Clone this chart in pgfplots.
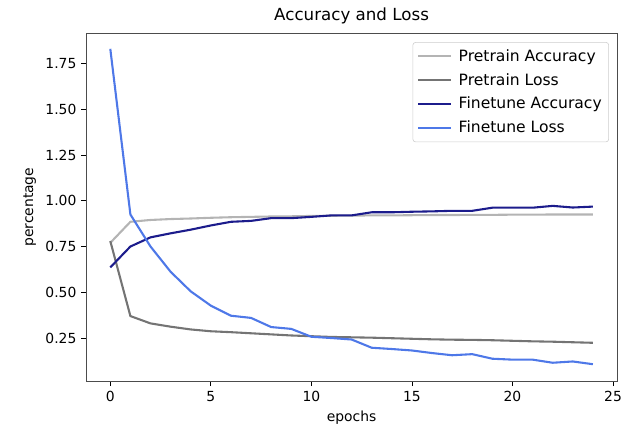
\documentclass[border=0pt]{standalone}
\usepackage{fontspec}
\setmainfont{DejaVu Sans}
\usepackage{pgfplots}
\pgfplotsset{compat=1.18}
\definecolor{pacc}{HTML}{B4B4B4}
\definecolor{ploss}{HTML}{747474}
\definecolor{facc}{HTML}{1C1C8C}
\definecolor{floss}{HTML}{4E78E8}
\begin{document}
\begin{tikzpicture}
\begin{axis}[
  scale only axis,
  width=382pt, height=250.6pt,
  xmin=-1.2, xmax=25.2, ymin=0.0135, ymax=1.916,
  xtick={0,5,10,15,20,25},
  ytick={0.25,0.5,0.75,1.0,1.25,1.5,1.75},
  yticklabel style={/pgf/number format/.cd,fixed,fixed zerofill,precision=2},
  /pgf/number format/assume math mode=true,
  tick align=outside, tick pos=left,
  major tick length=3.5pt,
  tick style={black, line width=0.6pt},
  axis line style={black!70, line width=0.6pt},
  ticklabel style={font=\fontsize{10}{12}\selectfont},
  label style={font=\fontsize{10}{12}\selectfont},
  title style={font=\fontsize{12}{14}\selectfont, yshift=-3pt},
  title={Accuracy and Loss},
  xlabel={epochs}, ylabel={percentage},
  legend style={at={(1,1)}, anchor=north east, xshift=-5.8pt, yshift=-6.5pt,
    font=\fontsize{11.2}{13}\selectfont, draw=black!20, rounded corners=2pt,
    inner xsep=3pt, inner ysep=3pt, row sep=3.2pt, column sep=2.5pt},
  legend image code/.code={\draw[#1, line width=1.5pt] (0pt,0pt) -- (24pt,0pt);},
  legend cell align=left,
  every axis plot/.append style={line width=1.5pt},
]
\addplot[pacc] coordinates {(0,0.77)(1,0.885)(2,0.895)(3,0.90)(4,0.903)(5,0.907)(6,0.91)(7,0.912)(8,0.914)(9,0.915)(10,0.917)(11,0.918)(12,0.919)(13,0.92)(14,0.92)(15,0.921)(16,0.922)(17,0.922)(18,0.923)(19,0.923)(20,0.924)(21,0.924)(22,0.925)(23,0.925)(24,0.925)};
\addlegendentry{Pretrain Accuracy}
\addplot[ploss] coordinates {(0,0.78)(1,0.37)(2,0.33)(3,0.312)(4,0.297)(5,0.287)(6,0.282)(7,0.276)(8,0.27)(9,0.264)(10,0.26)(11,0.256)(12,0.254)(13,0.252)(14,0.249)(15,0.246)(16,0.243)(17,0.241)(18,0.24)(19,0.238)(20,0.235)(21,0.232)(22,0.23)(23,0.227)(24,0.224)};
\addlegendentry{Pretrain Loss}
\addplot[facc] coordinates {(0,0.636)(1,0.75)(2,0.80)(3,0.822)(4,0.842)(5,0.865)(6,0.885)(7,0.89)(8,0.905)(9,0.905)(10,0.912)(11,0.92)(12,0.92)(13,0.937)(14,0.937)(15,0.94)(16,0.942)(17,0.945)(18,0.945)(19,0.962)(20,0.962)(21,0.962)(22,0.972)(23,0.963)(24,0.968)};
\addlegendentry{Finetune Accuracy}
\addplot[floss] coordinates {(0,1.83)(1,0.925)(2,0.75)(3,0.612)(4,0.505)(5,0.427)(6,0.372)(7,0.36)(8,0.31)(9,0.30)(10,0.257)(11,0.25)(12,0.242)(13,0.197)(14,0.19)(15,0.182)(16,0.168)(17,0.156)(18,0.162)(19,0.137)(20,0.132)(21,0.132)(22,0.115)(23,0.122)(24,0.107)};
\addlegendentry{Finetune Loss}
\end{axis}
\useasboundingbox (-62pt,-36.7pt) rectangle (393.5pt,274.4pt);
\end{tikzpicture}
\end{document}
